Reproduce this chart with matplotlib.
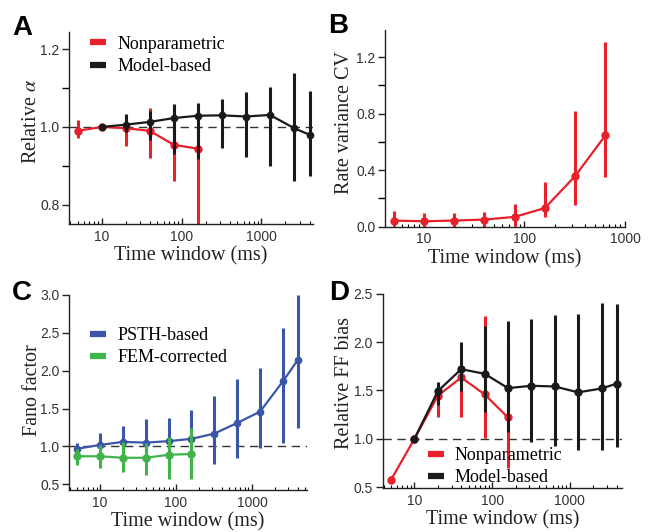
import numpy as np
import matplotlib
matplotlib.use('Agg')
import matplotlib.pyplot as plt
from matplotlib.ticker import FixedLocator, NullFormatter, LogLocator
from matplotlib.lines import Line2D

plt.rcParams['mathtext.fontset'] = 'stix'

RED = '#e8202a'
BLACK = '#1a1a1a'
BLUE = '#3a56a8'
GREEN = '#3fb449'

# panel A: relative alpha
a_np_x = [5, 10, 20, 40, 80, 160]
a_np_y = [0.990, 1.000, 0.997, 0.990, 0.954, 0.944]
a_np_lo = [0.971, 0.995, 0.952, 0.920, 0.860, 0.700]
a_np_hi = [1.017, 1.005, 1.023, 1.050, 1.045, 1.060]
a_mb_x = [10, 20, 40, 80, 160, 320, 640, 1280, 2560, 4000]
a_mb_y = [1.000, 1.006, 1.013, 1.023, 1.029, 1.030, 1.027, 1.031, 0.997, 0.980]
a_mb_lo = [0.995, 0.986, 0.967, 0.931, 0.917, 0.946, 0.922, 0.899, 0.860, 0.874]
a_mb_hi = [1.005, 1.034, 1.040, 1.059, 1.061, 1.073, 1.091, 1.104, 1.138, 1.093]

# panel B: rate variance CV
b_x = [5, 10, 20, 40, 80, 160, 320, 640]
b_y = [0.043, 0.038, 0.043, 0.050, 0.069, 0.132, 0.359, 0.647]
b_lo = [0.005, 0.0, 0.0, 0.0, 0.005, 0.071, 0.154, 0.354]
b_hi = [0.113, 0.095, 0.095, 0.106, 0.160, 0.319, 0.822, 1.306]

# panel C: Fano factor
c_psth_x = [5, 10, 20, 40, 80, 160, 320, 640, 1280, 2560, 4000]
c_psth_y = [0.97, 1.02, 1.06, 1.05, 1.07, 1.10, 1.17, 1.31, 1.46, 1.86, 2.14]
c_psth_lo = [0.89, 0.87, 0.85, 0.79, 0.76, 0.72, 0.77, 0.85, 0.98, 1.05, 1.25]
c_psth_hi = [1.05, 1.18, 1.27, 1.36, 1.38, 1.48, 1.67, 1.89, 2.03, 2.57, 3.00]
c_fem_x = [5, 10, 20, 40, 80, 160]
c_fem_y = [0.87, 0.87, 0.85, 0.85, 0.89, 0.90]
c_fem_lo = [0.75, 0.72, 0.66, 0.62, 0.57, 0.57]
c_fem_hi = [0.97, 1.02, 1.06, 1.05, 1.12, 1.24]

# panel D: relative FF bias
d_np_x = [5, 10, 20, 40, 80, 160]
d_np_y = [0.576, 1.000, 1.445, 1.634, 1.459, 1.220]
d_np_lo = [0.54, 0.99, 1.23, 1.22, 1.005, 0.70]
d_np_hi = [0.61, 1.01, 1.57, 1.76, 2.27, 1.98]
d_mb_x = [10, 20, 40, 80, 160, 320, 640, 1280, 2560, 4000]
d_mb_y = [1.000, 1.493, 1.720, 1.672, 1.524, 1.548, 1.541, 1.480, 1.520, 1.570]
d_mb_lo = [0.99, 1.35, 1.49, 1.28, 1.074, 0.97, 0.92, 0.885, 0.885, 0.91]
d_mb_hi = [1.01, 1.59, 2.00, 2.167, 2.215, 2.24, 2.28, 2.29, 2.41, 2.39]

fig = plt.figure(figsize=(6.52, 5.32), dpi=100)
axA = fig.add_axes([0.1058, 0.579, 0.374, 0.361])
axB = fig.add_axes([0.5905, 0.574, 0.368, 0.370])
axC = fig.add_axes([0.1058, 0.079, 0.365, 0.3665])
axD = fig.add_axes([0.587, 0.0827, 0.367, 0.365])

serif = 'Liberation Serif'
sans = 'Liberation Sans'


def series(ax, x, y, lo, hi, color, z=2, ms=5):
    x = np.array(x)
    y = np.array(y)
    err = [y - np.array(lo), np.array(hi) - y]
    ax.errorbar(x, y, yerr=err, fmt='none', ecolor=color, elinewidth=2.2,
                capsize=0, zorder=z)
    ax.plot(x, y, '-o', color=color, lw=1.6, ms=ms, zorder=z + 0.5,
            clip_on=False)


def style(ax, xlim, ylim, yticks, yminor, ylabel, lab_xy, dashed=True):
    ax.set_xscale('log')
    ax.set_xlim(*xlim)
    ax.set_ylim(*ylim)
    for s in ['top', 'right']:
        ax.spines[s].set_visible(False)
    for s in ['left', 'bottom']:
        ax.spines[s].set_linewidth(1.0)
        ax.spines[s].set_color('#222222')
    ax.set_xticks([10, 100, 1000])
    ax.set_xticklabels(['10', '100', '1000'])
    ax.xaxis.set_minor_locator(LogLocator(base=10, subs=np.arange(2, 10)))
    ax.xaxis.set_minor_formatter(NullFormatter())
    ax.set_yticks(yticks)
    ax.set_yticklabels(['%.1f' % t for t in yticks])
    ax.yaxis.set_minor_locator(FixedLocator(yminor))
    ax.tick_params(axis='x', which='major', direction='in', length=4, width=1,
                   labelsize=10, pad=4, colors='#222222', labelcolor='#333333')
    ax.tick_params(axis='x', which='minor', direction='in', length=2.5, width=0.8)
    ax.tick_params(axis='y', which='major', direction='out', length=5, width=1,
                   labelsize=10, pad=2, colors='#222222', labelcolor='#333333')
    ax.tick_params(axis='y', which='minor', direction='out', length=5, width=1)
    for lab in ax.get_xticklabels() + ax.get_yticklabels():
        lab.set_fontfamily(sans)
    ax.set_xlabel('Time window (ms)', fontfamily=serif, fontsize=14.5,
                  labelpad=2, color='#222222')
    ax.set_ylabel(ylabel, fontfamily=serif, fontsize=14.5, color='#222222',
                  va='center')
    ax.yaxis.set_label_coords(*lab_xy)
    if dashed:
        ax.axhline(1.0, color='#333333', lw=1.0, ls=(0, (6, 4)), zorder=1)


# A
series(axA, a_np_x, a_np_y, a_np_lo, a_np_hi, RED, z=2)
series(axA, a_mb_x, a_mb_y, a_mb_lo, a_mb_hi, BLACK, z=3, ms=4.5)
style(axA, (3.9, 4400), (0.75, 1.245), [0.8, 1.0, 1.2], [0.9, 1.1],
      'Relative $\\alpha$', (-0.152, 0.535))

# B
series(axB, b_x, b_y, b_lo, b_hi, RED)
style(axB, (4.1, 1000), (0.0, 1.394), [0.0, 0.4, 0.8, 1.2], [0.2, 0.6, 1.0],
      'Rate variance CV', (-0.167, 0.53), dashed=False)

# C
series(axC, c_psth_x, c_psth_y, c_psth_lo, c_psth_hi, BLUE, z=2, ms=4.5)
series(axC, c_fem_x, c_fem_y, c_fem_lo, c_fem_hi, GREEN, z=3)
style(axC, (3.9, 5300), (0.425, 3.0), [0.5, 1.0, 1.5, 2.0, 2.5, 3.0], [],
      'Fano factor', (-0.155, 0.51))

# D
series(axD, d_np_x, d_np_y, d_np_lo, d_np_hi, RED, z=2)
series(axD, d_mb_x, d_mb_y, d_mb_lo, d_mb_hi, BLACK, z=3)
style(axD, (3.9, 4700), (0.49, 2.5), [0.5, 1.0, 1.5, 2.0, 2.5], [],
      'Relative FF bias', (-0.159, 0.54))

leg_kw = dict(frameon=False, handlelength=0.9, handletextpad=0.6,
              labelspacing=0.3, prop={'family': serif, 'size': 13})


def legend(ax, loc, anchor, colors, labels):
    hs = [Line2D([], [], color=c, lw=4.5, solid_capstyle='butt') for c in colors]
    ax.legend(hs, labels, loc=loc, bbox_to_anchor=anchor, **leg_kw)


legend(axA, 'upper left', (0.02, 1.065), [RED, BLACK], ['Nonparametric', 'Model-based'])
legend(axC, 'upper left', (0.02, 0.92), [BLUE, GREEN], ['PSTH-based', 'FEM-corrected'])
legend(axD, 'lower left', (0.12, -0.075), [RED, BLACK], ['Nonparametric', 'Model-based'])

for letter, (px, py) in zip('ABCD', [(12, 15), (328, 13), (12, 280), (329, 280)]):
    fig.text(px / 652, 1 - py / 532, letter, fontfamily=sans, fontweight='bold',
             fontsize=20, va='top', ha='left')

fig.savefig('out.png', dpi=100)
